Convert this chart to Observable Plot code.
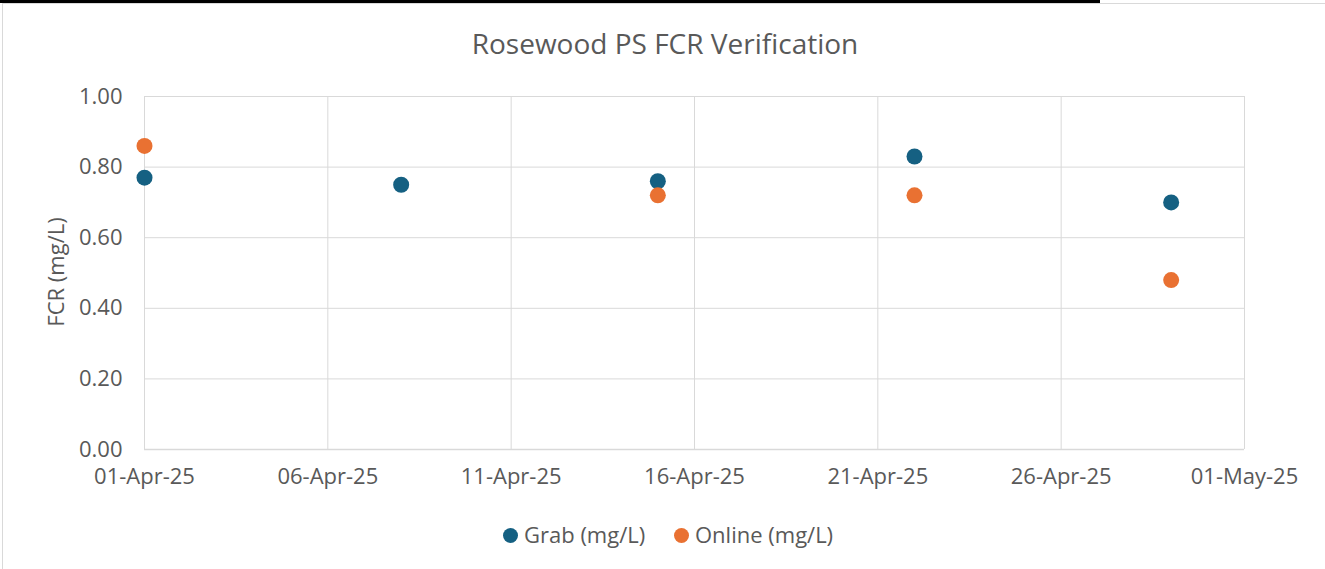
<!DOCTYPE html>
<html>
<head>
<meta charset="utf-8">
<script src="https://cdn.jsdelivr.net/npm/d3@7"></script>
<script src="https://cdn.jsdelivr.net/npm/@observablehq/plot@0.6"></script>
<style>
  html, body { margin: 0; padding: 0; background: #fff; }
  #chart { position: relative; width: 1325px; height: 569px; overflow: hidden; font-family: "Open Sans", sans-serif; color: #595959; }
  #topbar { position: absolute; left: 0; top: 0; width: 1100px; height: 3px; background: #000; }
  #frame { position: absolute; left: 2px; top: 3px; width: 1330px; height: 580px; border: 1px solid #d9d9d9; box-sizing: border-box; }
  #title { position: absolute; left: 0; width: 1330px; top: 26px; text-align: center; font-size: 28px; line-height: 34px; color: #595959; }
  #plot { position: absolute; left: 0; top: 75px; }
  #ylabel { position: absolute; left: 55px; top: 272px; transform: translate(-50%, -50%) rotate(-90deg); font-size: 22px; line-height: 26px; white-space: nowrap; color: #595959; }
  #legend { position: absolute; top: 519px; left: 0; width: 1325px; height: 30px; }
  .item { position: absolute; top: 0; font-size: 22px; line-height: 30px; color: #595959; white-space: nowrap; }
  .sw { display: inline-block; width: 15px; height: 15px; border-radius: 50%; margin-right: 6px; vertical-align: 0px; }
</style>
</head>
<body>
<div id="chart">
  <div id="topbar"></div>
  <div id="frame"></div>
  <div id="title">Rosewood PS FCR Verification</div>
  <div id="plot"></div>
  <div id="ylabel">FCR (mg/L)</div>
  <div id="legend"></div>
</div>
<script>
const grabDates = ["2025-04-01", "2025-04-08", "2025-04-15", "2025-04-22", "2025-04-29"];
const grabValues = [0.77, 0.75, 0.76, 0.83, 0.70];
const onlineDates = ["2025-04-01", "2025-04-15", "2025-04-22", "2025-04-29"];
const onlineValues = [0.86, 0.72, 0.72, 0.48];
const xTicks = ["2025-04-01", "2025-04-06", "2025-04-11", "2025-04-16", "2025-04-21", "2025-04-26", "2025-05-01"];
const yTicks = [0, 0.2, 0.4, 0.6, 0.8, 1.0];
const seriesNames = ["Grab (mg/L)", "Online (mg/L)"];
const seriesColors = ["#156082", "#E97132"];

const parse = d3.utcParse("%Y-%m-%d");
const grab = grabDates.map((d, i) => ({date: parse(d), value: grabValues[i]}));
const online = onlineDates.map((d, i) => ({date: parse(d), value: onlineValues[i]}));
const ticks = xTicks.map(parse);
const fmt = d3.utcFormat("%d-%b-%y");

const plot = Plot.plot({
  width: 1325,
  height: 424,
  marginLeft: 144,
  marginRight: 81,
  marginTop: 21,
  marginBottom: 50,
  style: {fontFamily: "Open Sans, sans-serif", fontSize: "22px", color: "#595959", background: "transparent"},
  x: {type: "utc", domain: [ticks[0], ticks[ticks.length - 1]]},
  y: {domain: [0, 1]},
  marks: [
    Plot.gridX(ticks, {stroke: "#d9d9d9", strokeOpacity: 1}),
    Plot.gridY(yTicks, {stroke: "#d9d9d9", strokeOpacity: 1}),
    Plot.ruleY([0], {stroke: "#d9d9d9", strokeWidth: 1.3}),
    Plot.axisX(ticks, {tickSize: 0, tickPadding: 19, fontSize: 22, tickFormat: fmt, fill: "#595959", label: null}),
    Plot.axisY(yTicks, {tickSize: 0, tickPadding: 22, fontSize: 22, tickFormat: d3.format(".2f"), fill: "#595959", label: null}),
    Plot.dot(grab, {x: "date", y: "value", r: 8, fill: seriesColors[0], stroke: "none"}),
    Plot.dot(online, {x: "date", y: "value", r: 8, fill: seriesColors[1], stroke: "none"})
  ]
});
document.getElementById("plot").appendChild(plot);

const legend = document.getElementById("legend");
const lefts = [503, 674];
seriesNames.forEach((name, i) => {
  const el = document.createElement("div");
  el.className = "item";
  el.style.left = lefts[i] + "px";
  el.innerHTML = `<span class="sw" style="background:${seriesColors[i]}"></span>${name}`;
  legend.appendChild(el);
});
</script>
</body>
</html>
